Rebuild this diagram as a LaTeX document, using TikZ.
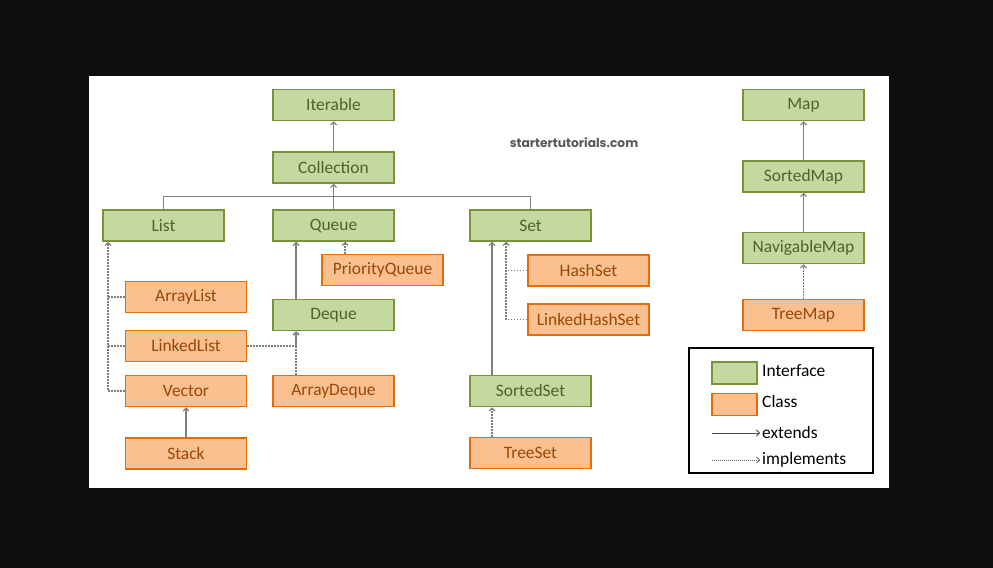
\documentclass[tikz,border=0pt]{standalone}
\usepackage{fontspec}
\setmainfont{Carlito}
\newfontfamily\wmfont{Poppins}
\usetikzlibrary{arrows.meta}
\definecolor{bgdark}{HTML}{0E0E0E}
\definecolor{ifill}{HTML}{C5D8A0}
\definecolor{idraw}{HTML}{77933C}
\definecolor{itext}{HTML}{4F6228}
\definecolor{cfill}{HTML}{FAC090}
\definecolor{cdraw}{HTML}{E46C0A}
\definecolor{ctext}{HTML}{984807}
\definecolor{lgray}{HTML}{7F7F7F}
\definecolor{wmgray}{HTML}{595959}
\tikzset{
  box/.style={minimum width=121bp, minimum height=31bp, inner sep=0pt, line width=1.5bp, font=\fontsize{17.5}{20}\selectfont},
  iface/.style={box, fill=ifill, draw=idraw, text=itext},
  cls/.style={box, fill=cfill, draw=cdraw, text=ctext},
  conn/.style={draw=lgray, line width=1.1bp},
  ext/.style={conn, -{Straight Barb[length=3bp,width=6bp]}},
  impl/.style={conn, dash pattern=on 1.5bp off 1.5bp, -{Straight Barb[length=3bp,width=6bp]}},
  implnoarr/.style={conn, dash pattern=on 1.5bp off 1.5bp},
  legtext/.style={anchor=west, inner sep=0pt, font=\fontsize{17.5}{20}\selectfont, text=black},
}
\begin{document}
\begin{tikzpicture}[x=1bp,y=-1bp]
\fill[bgdark] (0,0) rectangle (993,568);
\fill[white] (89,76) rectangle (889,488);
\useasboundingbox (0,0) rectangle (993,568);

% nodes
\node[iface] (iter) at (333.5,105) {Iterable};
\node[iface] (coll) at (333.5,167.5) {Collection};
\node[iface] (list) at (163.5,225.5) {List};
\node[iface] (queue) at (333.5,225.5) {Queue};
\node[iface] (set) at (530.5,225.5) {Set};
\node[cls] (pq) at (382.5,270) {PriorityQueue};
\node[cls] (al) at (186,297) {ArrayList};
\node[cls] (ll) at (186,346) {LinkedList};
\node[cls] (vec) at (186,391) {Vector};
\node[cls] (stack) at (186,453.5) {Stack};
\node[iface] (deque) at (333.5,315) {Deque};
\node[cls] (ad) at (333.5,391) {ArrayDeque};
\node[cls] (hs) at (588.5,270.5) {HashSet};
\node[cls] (lhs) at (588.5,319.5) {LinkedHashSet};
\node[iface] (ss) at (530.5,391) {SortedSet};
\node[cls] (ts) at (530.5,453) {TreeSet};
\node[iface] (map) at (803.5,105) {Map};
\node[iface] (sm) at (803.5,176.5) {SortedMap};
\node[iface] (nm) at (803.5,248) {NavigableMap};
\node[cls] (tm) at (803.5,315) {TreeMap};

\node[font=\wmfont\bfseries\fontsize{12.3}{14}\selectfont, text=wmgray] (wm) at (574,143) {startertutorials.com};

% connectors
\draw[ext] (coll.north) -- (iter.south);
\draw[ext] (queue.north) -- (coll.south);
\draw[conn] (list.north) -- ++(0,-13) -| (set.north);

\coordinate (qx) at ([xshift=-37.5bp]queue.south);
\coordinate (dx) at ([xshift=-37.5bp]deque.south);
\draw[ext] (qx |- deque.north) -- (qx);
\coordinate (pqx) at ([xshift=11.5bp]queue.south);
\draw[impl] (pqx |- pq.north) -- (pqx);

\coordinate (lx) at ([xshift=-55.5bp]list.south);
\draw[impl] (vec.west) -| (lx);
\draw[implnoarr] (al.west) -- (al.west -| lx);
\draw[implnoarr] (ll.west) -- (ll.west -| lx);
\draw[ext] (stack.north) -- (vec.south);

\draw[impl] (ll.east) -| (dx);
\draw[impl] (dx |- ad.north) -- (dx);

\coordinate (sx) at ([xshift=-38.5bp]set.south);
\coordinate (ssx) at ([xshift=-38.5bp]ss.south);
\draw[ext] (sx |- ss.north) -- (sx);
\coordinate (hx) at ([xshift=-24.5bp]set.south);
\draw[impl] (lhs.west) -| (hx);
\draw[implnoarr] (hs.west) -- (hs.west -| hx);
\draw[impl] (ssx |- ts.north) -- (ssx);

\draw[ext] (sm.north) -- (map.south);
\draw[ext] (nm.north) -- (sm.south);
\draw[impl] (tm.north) -- (nm.south);

% legend
\draw[black, line width=1.5bp] (689,348) rectangle (873,473);
\node[iface, minimum width=45bp, minimum height=22bp] (li) at (734.5,373) {};
\node[cls, minimum width=45bp, minimum height=22bp] (lc) at (734.5,404.5) {};
\node[legtext] (lti) at (762,371) {Interface};
\node[legtext] (ltc) at (762,402) {Class};
\node[legtext] (lte) at (762,433) {extends};
\node[legtext] (ltm) at (762,460) {implements};
\coordinate (le0) at (712,433);
\coordinate (lm0) at (712,460);
\coordinate (le1) at (760,433);
\coordinate (lm1) at (760,460);
\draw[ext, draw=black!70, line width=0.8bp] (le0) -- (le1);
\draw[impl, draw=black!60, line width=0.8bp, dash pattern=on 1bp off 1bp] (lm0) -- (lm1);
\end{tikzpicture}
\end{document}
